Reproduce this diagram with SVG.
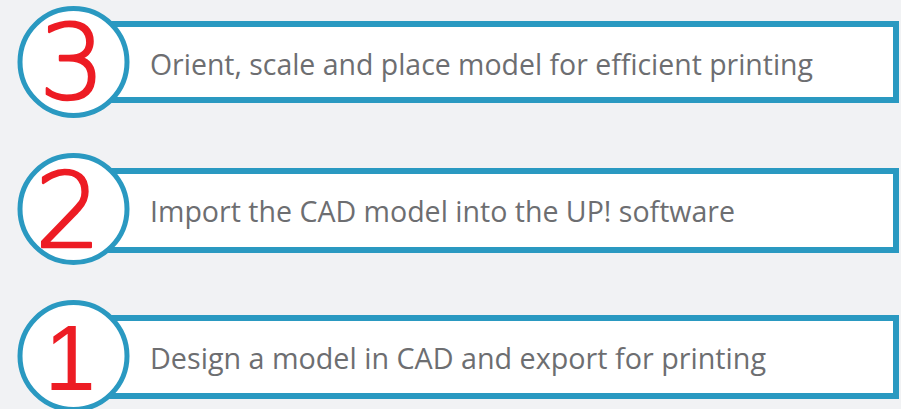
<svg xmlns="http://www.w3.org/2000/svg" width="901" height="409" viewBox="0 0 901 409">
<style>
.bg{fill:#f1f2f4}
.box{fill:#ffffff;stroke:#2a99c1;stroke-width:6}
.ring{fill:#ffffff;stroke:#2a99c1;stroke-width:5}
.lbl{font-family:"Open Sans","Noto Sans","Liberation Sans",sans-serif;font-size:29px;fill:#6d6e71}
.num{font-family:"DejaVu Sans","Liberation Sans",sans-serif;font-weight:200;font-size:104px;fill:#ed1c24;stroke:#ed1c24;stroke-width:2.5;stroke-linejoin:round;text-anchor:middle}
.one{font-family:"Liberation Sans",sans-serif;font-weight:400;font-size:92px;stroke-width:0}
</style>
<rect class="bg" x="0" y="0" width="901" height="409"/>
<g id="connectors"></g>
<g id="step3">
<rect class="box" x="100" y="24" width="796" height="76"/>
<circle class="ring" cx="73.5" cy="62" r="53.5"/>
<text class="num" x="72" y="99">3</text>
<text class="lbl" x="150" y="75" textLength="663" lengthAdjust="spacingAndGlyphs">Orient, scale and place model for efficient printing</text>
</g>
<g id="step2">
<rect class="box" x="100" y="171" width="796" height="79"/>
<circle class="ring" cx="73.5" cy="209" r="53.5"/>
<text class="num" x="68" y="247">2</text>
<text class="lbl" x="150" y="222" textLength="585" lengthAdjust="spacingAndGlyphs">Import the CAD model into the UP! software</text>
</g>
<g id="step1">
<rect class="box" x="100" y="318" width="796" height="78"/>
<circle class="ring" cx="73.5" cy="356" r="53.5"/>
<text class="num one" x="70" y="390">1</text>
<text class="lbl" x="150" y="369" textLength="616" lengthAdjust="spacingAndGlyphs">Design a model in CAD and export for printing</text>
</g>
</svg>
